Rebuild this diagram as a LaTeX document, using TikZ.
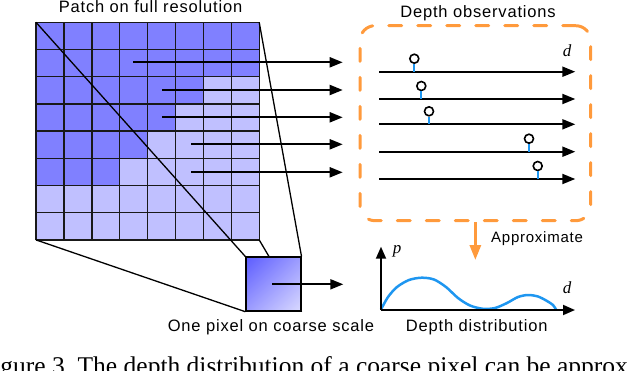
\documentclass[tikz,border=0pt]{standalone}
\usepackage{fontspec}
\setmainfont{Liberation Sans}
\newfontfamily\seriffont{Liberation Serif}
\newfontfamily\labelfont[LetterSpace=5]{Liberation Sans}
\usetikzlibrary{arrows.meta,positioning,shadings}
\pgfdeclarelayer{front}
\pgfsetlayers{main,front}
\definecolor{cellhi}{HTML}{8080FF}
\definecolor{celllo}{HTML}{C0C0FF}
\definecolor{pixdark}{HTML}{5C5CFF}
\definecolor{pixmid}{HTML}{9C9CFF}
\definecolor{pixlight}{HTML}{DADAFF}
\definecolor{obsorange}{HTML}{FF9A3C}
\definecolor{depthblue}{HTML}{1E96F0}

\begin{document}
\begin{tikzpicture}[x=1pt, y=-1pt,
  lbl/.style={font=\labelfont\fontsize{16.5}{18}\selectfont, inner sep=0pt, anchor=base},
  var/.style={font=\seriffont\itshape\fontsize{17}{18}\selectfont, inner sep=0pt},
  arr/.style={-{Triangle[length=13pt,width=10pt]}, line width=2pt},
  gridline/.style={line width=1.4pt, draw=black!90},
  proj/.style={line width=1.3pt},
  coarse/.style={draw, line width=1.3pt, minimum width=55pt, minimum height=54pt, inner sep=0pt,
                 upper left=pixdark, upper right=pixmid, lower left=pixmid, lower right=pixlight},
  obsbox/.style={draw=obsorange, line width=3pt, line cap=round, dash pattern=on 13pt off 16pt,
                 rounded corners=15pt, minimum width=230.7pt, minimum height=195pt, inner sep=0pt},
  obsarr/.style={-{Triangle[length=15pt,width=11pt]}, draw=obsorange, line width=3pt},
  marker/.style={circle, draw, fill=white, line width=1.6pt, minimum size=9pt, inner sep=0pt},
  stem/.style={draw=depthblue, line width=2pt},
  axis/.style={-{Triangle[length=12pt,width=10pt]}, line width=1.8pt},
]
  \useasboundingbox (0,0) rectangle (628,370);
  \clip (0,0) rectangle (628,370);

  \foreach \r/\n in {0/8,1/8,2/6,3/5,4/4,5/3,6/0,7/0}{
    \foreach \c in {0,...,7}{
      \ifnum\c<\n \def\cellcol{cellhi}\else\def\cellcol{celllo}\fi
      \fill[\cellcol] (36+\c*27.9, 22.3+\r*27.2) rectangle ++(27.9,27.2);
    }
  }
  \foreach \i in {0,...,8}{
    \draw[gridline] (36+\i*27.9,22.3) -- (36+\i*27.9,239.9);
    \draw[gridline] (36,22.3+\i*27.2) -- (259.2,22.3+\i*27.2);
  }
  \coordinate (patch-nw) at (36,22.3);
  \coordinate (patch-ne) at (259.2,22.3);
  \coordinate (patch-sw) at (36,239.9);
  \coordinate (patch-se) at (259.2,239.9);
  \node[lbl] (patchlbl) at (150.5,12.3) {Patch on full resolution};

  \begin{pgfonlayer}{front}
    \node[coarse] (pix) at (273.35,284) {};
    \coordinate (pix-src) at (272.3,284.3);
    \coordinate (pix-dst) at (343.3,284.3);
    \draw[arr] (pix-src) -- (pix-dst);
  \end{pgfonlayer}
  \draw[proj] (patch-nw) -- (pix.north west);
  \draw[proj] (patch-ne) -- (pix.north east);
  \draw[proj] (patch-sw) -- (pix.south west);
  \draw[proj] (patch-se) -- (pix.south east);
  \node[lbl] (pixlbl) at (271,331.7) {One pixel on coarse scale};

  \foreach \k/\sx/\sy in {1/133/62.3, 2/162/90, 3/162/117.3, 4/191/144.3, 5/191/172.3}{
    \coordinate (src\k) at (\sx,\sy);
    \coordinate (dst\k) at (342.7,\sy);
    \draw[arr] (src\k) -- (dst\k);
  }

  \node[obsbox] (obs) at (475.35,123.2) {};
  \node[lbl] (obslbl) at (478,17.3) {Depth observations};
  \node[var] (dobs) at (567,51) {d};
  \foreach \k/\ly/\mx in {1/71.7/414.3, 2/99/421.3, 3/124.3/429, 4/151.7/529, 5/179/537.7}{
    \coordinate (line\k-start) at (379.3,\ly);
    \coordinate (line\k-end) at (575.3,\ly);
    \coordinate (hit\k) at (\mx,\ly);
    \draw[arr] (line\k-start) -- (line\k-end);
    \node[marker] (mark\k) at (\mx,\ly-13) {};
    \draw[stem] (mark\k.south) -- (hit\k);
  }

  \coordinate (approx-tip) at (475.35,260);
  \draw[obsarr] (obs.south) -- (approx-tip);
  \node[lbl, anchor=base west, font=\labelfont\fontsize{15}{17}\selectfont] (approxlbl) at (491,242.7) {Approximate};

  \coordinate (origin) at (381,310);
  \coordinate (ptop) at (381,246.7);
  \coordinate (pright) at (575,310);
  \draw[depthblue, line width=2.5pt] plot[smooth] coordinates {
    (381,309.5) (388,297) (397,287) (409,280) (421.7,277.7) (434,279.5) (446,287)
    (458,298) (470,305.5) (483,308.8) (495,308) (507,303) (518,297) (528,295)
    (538,296.5) (547,301) (553,305) (556,309.5)};
  \draw[axis] (origin) -- (ptop);
  \draw[axis] (origin) -- (pright);
  \node[var] (plbl) at (397,251) {p};
  \node[var] (dlbl) at (567,288) {d};
  \node[lbl] (distlbl) at (476.7,331.7) {Depth distribution};

  \node[font=\seriffont\fontsize{25.5}{28}\selectfont, anchor=base west, inner sep=0pt] (caption)
    at (-21,374.5) {Figure 3.\ The depth distribution of a coarse pixel can be approximated};
\end{tikzpicture}
\end{document}
